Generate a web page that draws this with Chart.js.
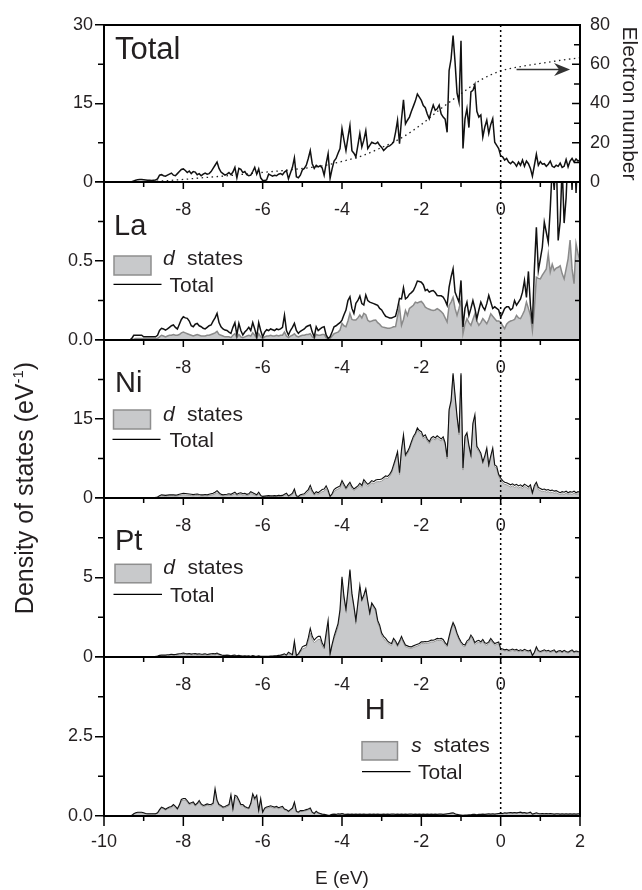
<!DOCTYPE html>
<html><head><meta charset="utf-8">
<script src="https://cdn.jsdelivr.net/npm/chart.js@4.4.1/dist/chart.umd.min.js"></script>
<style>
html,body{margin:0;padding:0;background:#fff;}
#wrap{position:relative;width:642px;height:890px;overflow:hidden;background:#fff;}
#wrap canvas{position:absolute;left:0;top:0;}
</style></head><body>
<div id="wrap">
<canvas id="c0" width="642" height="890"></canvas>
<canvas id="c1" width="642" height="890"></canvas>
<canvas id="c2" width="642" height="890"></canvas>
<canvas id="c3" width="642" height="890"></canvas>
<canvas id="c4" width="642" height="890"></canvas>
</div>
<script>
// ---------- DATA ----------
// energy grid (eV): -9.5 ... 2.0 in 0.05 eV steps (231 points)
const N = 231;
const energy = Array.from({length: N}, (_, i) => Math.round((-9.5 + i * 0.05) * 100) / 100);

// Total DOS (states/eV)
const totalDOS = [
0,0,0,0,0.05,0.2,0.35,0.45,0.5,0.5,
0.45,0.4,0.35,0.35,0.3,0.35,0.4,0.6,1.3,1.4,
1.2,1.1,1.3,1.5,1.7,1.3,1.2,1.6,2.0,2.4,
2.5,2.2,1.8,2.1,1.6,2.0,1.9,1.4,1.6,1.2,
1.5,1.7,1.5,1.6,2.0,2.6,3.2,3.8,2.6,1.9,
1.6,1.3,1.5,1.8,1.4,1.9,2.8,0.8,2.6,2.4,
1.8,2.0,1.4,1.2,1.3,2.0,2.8,1.5,2.5,0.8,
0.3,0.3,0.4,1.5,1.3,1.1,1.3,1.2,1.5,1.6,
1.4,1.9,2.2,0.6,1.7,2.8,4.6,1.0,0.8,1.3,
2.3,2.6,3.2,4.5,6.0,3.5,2.6,3.2,2.9,3.1,
2.7,1.3,3.5,5.4,0.7,2.5,4.0,4.5,5.5,6.4,
10.2,8.0,6.0,8.5,10.8,6.0,5.5,4.8,7.0,9.3,
6.7,8.0,9.8,6.4,7.0,7.6,7.4,7.3,7.6,7.0,
6.6,6.0,6.4,6.8,6.9,7.2,7.6,9.5,11.8,7.3,
12.0,15.7,11.1,11.8,12.4,13.5,14.5,15.5,16.8,16.2,
15.6,14.6,14.2,13.0,12.1,13.5,14.7,13.7,14.0,14.7,
13.0,12.4,12.0,9.5,21.3,23.5,28.0,22.9,17.0,15.3,
27.0,6.4,12.0,14.0,10.4,17.2,17.5,18.6,13.5,12.4,
12.8,8.6,10.5,11.8,9.3,11.0,12.1,7.6,7.0,6.4,
5.0,4.8,4.2,4.5,3.8,3.5,3.9,3.6,3.0,3.8,
3.2,4.2,3.0,4.0,3.5,2.6,1.1,3.2,5.3,3.2,
3.9,3.4,3.5,3.0,3.4,4.0,3.0,2.8,3.2,3.0,
3.6,2.8,3.0,4.3,2.9,4.0,4.5,3.8,4.4,4.0,
4.2];

// Integrated electron number (right axis)
const enEnergy = [-9.3,-9,-8.5,-8,-7.5,-7,-6.5,-6,-5.5,-5,-4.5,-4,-3.5,-3,-2.5,-2,-1.5,-1,-0.5,0,0.5,1,1.5,2];
const enCount  = [0,0.2,0.6,1.3,2.2,3.0,3.9,4.9,5.8,6.9,8.2,10.5,13.3,17.6,22.5,29.3,37.5,45.0,52.0,56.6,58.8,60.4,62.0,63.3];

// La
const laTotal = [
0,0,0,0,0.01,0.03,0.03,0.03,0.03,0.03,
0.02,0.02,0.02,0.02,0.02,0.02,0.02,0.03,0.06,0.074,
0.07,0.063,0.07,0.08,0.09,0.095,0.08,0.07,0.1,0.13,
0.147,0.14,0.137,0.12,0.09,0.084,0.1,0.105,0.09,0.084,
0.074,0.07,0.08,0.09,0.095,0.12,0.14,0.168,0.11,0.084,
0.07,0.063,0.06,0.05,0.042,0.08,0.11,0.032,0.105,0.06,
0.032,0.05,0.063,0.08,0.06,0.11,0.07,0.02,0.11,0.06,
0.02,0.05,0.065,0.06,0.07,0.065,0.06,0.07,0.065,0.07,
0.08,0.157,0.06,0.032,0.06,0.08,0.105,0.06,0.042,0.055,
0.063,0.07,0.084,0.09,0.095,0.05,0.02,0.084,0.06,0.07,
0.08,0.084,0.032,0.01,0.02,0.05,0.084,0.09,0.1,0.11,
0.126,0.16,0.189,0.25,0.274,0.2,0.168,0.232,0.25,0.278,
0.23,0.221,0.285,0.25,0.24,0.235,0.23,0.225,0.22,0.2,
0.19,0.168,0.15,0.145,0.14,0.14,0.145,0.15,0.2,0.263,
0.26,0.33,0.26,0.27,0.29,0.3,0.313,0.34,0.373,0.37,
0.366,0.35,0.313,0.32,0.303,0.31,0.313,0.3,0.282,0.28,
0.28,0.272,0.25,0.22,0.335,0.4,0.45,0.303,0.27,0.24,
0.377,0.082,0.2,0.24,0.156,0.2,0.25,0.2,0.135,0.19,
0.24,0.21,0.19,0.23,0.282,0.24,0.2,0.21,0.2,0.19,
0.145,0.17,0.2,0.21,0.21,0.19,0.2,0.25,0.22,0.24,
0.26,0.303,0.377,0.27,0.434,0.22,0.103,0.45,0.713,0.44,
0.514,0.587,0.745,0.682,0.619,0.83,1.1,0.95,1.2,0.63,
0.75,1.1,0.74,0.9,1.2,1.2,0.95,1.3,0.93,1.2,
1.2];
const laD = [
0,0,0,0,0,0.005,0.01,0.01,0.01,0.01,
0.01,0.01,0.01,0.01,0.01,0.01,0.01,0.01,0.02,0.03,
0.025,0.02,0.025,0.03,0.03,0.035,0.03,0.03,0.035,0.045,
0.05,0.045,0.04,0.035,0.03,0.025,0.03,0.035,0.03,0.025,
0.025,0.025,0.03,0.03,0.035,0.04,0.045,0.055,0.035,0.03,
0.025,0.02,0.02,0.02,0.015,0.03,0.04,0.015,0.035,0.02,
0.015,0.02,0.025,0.03,0.025,0.045,0.03,0.01,0.04,0.02,
0.01,0.02,0.025,0.025,0.03,0.025,0.025,0.03,0.025,0.03,
0.03,0.05,0.025,0.015,0.025,0.03,0.04,0.025,0.02,0.025,
0.03,0.03,0.035,0.035,0.04,0.02,0.01,0.035,0.03,0.03,
0.035,0.035,0.015,0.005,0.01,0.025,0.04,0.045,0.05,0.063,
0.105,0.09,0.084,0.12,0.168,0.13,0.126,0.126,0.14,0.158,
0.14,0.168,0.16,0.125,0.116,0.12,0.125,0.126,0.11,0.1,
0.084,0.08,0.078,0.075,0.074,0.078,0.084,0.085,0.15,0.21,
0.093,0.13,0.187,0.156,0.2,0.21,0.22,0.24,0.235,0.24,
0.244,0.23,0.208,0.2,0.195,0.19,0.187,0.19,0.198,0.19,
0.18,0.166,0.14,0.114,0.219,0.24,0.27,0.2,0.156,0.2,
0.25,0.04,0.1,0.135,0.11,0.093,0.13,0.166,0.12,0.093,
0.11,0.135,0.12,0.103,0.13,0.166,0.15,0.135,0.12,0.12,
0.114,0.09,0.072,0.1,0.114,0.12,0.124,0.13,0.156,0.14,
0.135,0.16,0.187,0.24,0.2,0.156,0.061,0.2,0.397,0.39,
0.387,0.41,0.43,0.45,0.545,0.43,0.48,0.44,0.455,0.46,
0.47,0.42,0.387,0.45,0.514,0.632,0.45,0.357,0.61,0.547,
0.5];

// Ni
const niTotal = [
0,0,0,0,0.02,0.05,0.08,0.1,0.1,0.1,
0.1,0.1,0.1,0.1,0.1,0.1,0.12,0.2,0.45,0.6,
0.55,0.5,0.55,0.6,0.62,0.6,0.55,0.6,0.7,0.8,
0.9,0.85,0.8,0.75,0.7,0.65,0.7,0.75,0.65,0.6,
0.6,0.65,0.6,0.7,0.8,0.9,1.1,1.4,1.0,0.7,
0.6,0.65,0.7,0.8,0.7,0.9,1.1,0.7,0.9,1.0,
0.8,0.9,0.7,0.8,1.2,1.0,0.8,0.6,1.1,0.5,
0.3,0.35,0.4,0.45,0.4,0.4,0.45,0.4,0.5,0.45,
0.5,0.7,0.9,0.4,0.6,0.9,1.7,0.4,0.3,0.6,
0.7,0.8,1.2,1.6,2.4,1.4,0.8,1.2,1.0,1.3,
1.6,1.7,2.3,1.5,0.3,0.8,1.6,1.9,2.1,2.3,
3.3,2.6,1.9,2.5,3.0,2.2,1.7,2.0,2.3,2.8,
2.4,3.5,3.0,2.6,2.9,3.3,3.1,3.4,3.5,3.5,
3.6,3.9,4.2,4.1,4.5,5.1,6.3,7.5,8.8,4.8,
9.2,12.0,8.2,8.8,9.6,10.7,11.7,12.3,13.3,12.8,
12.6,11.7,12.0,11.2,10.7,11.4,11.7,11.4,11.8,11.5,
11.2,11.6,10.5,7.8,16.8,18.5,23.7,19.5,15.5,12.4,
23.7,5.7,11.7,12.4,10.0,8.2,14.2,15.8,9.8,9.2,
8.5,6.9,8.0,9.5,6.3,8.0,9.5,6.3,6.0,4.5,
3.8,3.3,3.0,2.9,2.7,2.5,2.7,2.4,2.6,2.3,
2.5,2.2,2.6,2.4,2.1,2.5,1.0,2.4,3.0,2.0,
1.8,1.6,1.7,1.5,1.6,1.4,1.5,1.3,1.4,1.2,
1.0,1.2,1.1,1.3,1.0,1.2,1.1,1.3,1.0,1.2,
1.1];
const niD = [
0,0,0,0,0.01,0.03,0.05,0.06,0.06,0.06,
0.06,0.06,0.06,0.06,0.06,0.06,0.07,0.12,0.3,0.4,
0.35,0.32,0.35,0.4,0.42,0.4,0.36,0.4,0.48,0.55,
0.62,0.58,0.55,0.5,0.46,0.43,0.47,0.5,0.43,0.4,
0.4,0.43,0.4,0.47,0.55,0.62,0.78,1.0,0.7,0.48,
0.4,0.43,0.47,0.55,0.47,0.62,0.78,0.47,0.62,0.7,
0.55,0.62,0.47,0.55,0.85,0.7,0.55,0.4,0.78,0.33,
0.2,0.23,0.27,0.3,0.27,0.27,0.3,0.27,0.33,0.3,
0.33,0.48,0.62,0.27,0.4,0.62,1.3,0.27,0.2,0.4,
0.48,0.55,0.85,1.2,1.9,1.0,0.55,0.85,0.7,0.95,
1.2,1.3,1.8,1.1,0.2,0.55,1.2,1.5,1.7,1.9,
2.9,2.2,1.6,2.1,2.6,1.8,1.4,1.7,1.9,2.4,
2.0,3.1,2.6,2.2,2.5,2.9,2.7,3.0,3.1,3.1,
3.2,3.5,3.8,3.7,4.1,4.7,5.9,7.1,8.4,4.4,
8.8,11.6,7.8,8.4,9.2,10.3,11.3,11.9,12.9,12.4,
12.2,11.3,11.6,10.8,10.3,11.0,11.3,11.0,11.4,11.1,
10.8,11.2,10.1,7.4,16.4,18.1,23.3,19.1,15.1,12.0,
23.3,5.3,11.3,12.0,9.6,7.8,13.8,15.4,9.4,8.8,
8.1,6.5,7.6,9.1,5.9,7.6,9.1,5.9,5.6,4.1,
3.4,2.9,2.6,2.5,2.3,2.1,2.3,2.0,2.2,1.9,
2.1,1.8,2.2,2.0,1.7,2.1,0.7,2.0,2.6,1.6,
1.4,1.2,1.3,1.1,1.2,1.0,1.1,0.9,1.0,0.8,
0.7,0.8,0.7,0.9,0.7,0.8,0.7,0.9,0.7,0.8,
0.7];

// Pt
const ptTotal = [
0,0,0,0,0.01,0.02,0.03,0.03,0.03,0.03,
0.03,0.03,0.03,0.03,0.03,0.03,0.04,0.06,0.1,0.12,
0.13,0.12,0.14,0.15,0.17,0.15,0.16,0.18,0.2,0.22,
0.25,0.22,0.2,0.22,0.18,0.2,0.22,0.18,0.2,0.17,
0.18,0.2,0.16,0.18,0.2,0.22,0.2,0.25,0.18,0.14,
0.1,0.1,0.12,0.1,0.08,0.1,0.12,0.07,0.1,0.08,
0.06,0.08,0.06,0.07,0.05,0.09,0.06,0.04,0.07,0.05,
0.04,0.04,0.05,0.05,0.06,0.06,0.07,0.08,0.1,0.12,
0.15,0.2,0.12,0.3,0.22,0.15,1.0,0.1,0.2,0.4,
0.64,0.7,0.75,1.2,1.8,1.3,1.06,1.2,1.3,1.3,
0.9,0.64,1.5,2.3,0.2,0.8,1.3,1.7,2.1,2.98,
5.05,3.8,3.0,4.2,5.5,4.0,3.2,2.3,3.4,4.5,
3.6,3.9,4.3,3.5,2.77,3.4,3.2,3.0,2.3,2.0,
1.5,1.3,1.17,1.0,0.9,0.85,1.17,1.0,0.75,1.0,
1.3,1.0,0.75,0.7,0.65,0.64,0.7,0.75,0.8,0.85,
0.96,0.95,0.97,0.96,1.0,1.06,1.05,1.1,1.17,1.15,
1.17,1.1,0.9,0.75,1.3,1.8,2.17,1.9,1.5,1.2,
0.96,0.8,0.75,1.0,1.1,1.38,1.2,0.9,1.0,1.05,
0.95,1.1,0.9,0.85,0.95,1.17,1.0,0.85,0.9,0.95,
0.53,0.5,0.45,0.48,0.42,0.45,0.5,0.44,0.48,0.4,
0.45,0.4,0.48,0.42,0.38,0.44,0.1,0.3,0.64,0.4,
0.35,0.4,0.45,0.38,0.42,0.35,0.4,0.45,0.3,0.38,
0.4,0.33,0.42,0.35,0.3,0.38,0.45,0.32,0.38,0.35,
0.33];
const ptD = [
0,0,0,0,0.005,0.01,0.015,0.015,0.015,0.015,
0.015,0.015,0.015,0.015,0.015,0.015,0.02,0.03,0.06,0.07,
0.08,0.07,0.09,0.1,0.11,0.1,0.1,0.12,0.13,0.15,
0.17,0.15,0.13,0.15,0.12,0.13,0.15,0.12,0.13,0.11,
0.12,0.13,0.1,0.12,0.13,0.15,0.13,0.17,0.12,0.09,
0.06,0.06,0.08,0.06,0.05,0.06,0.08,0.04,0.06,0.05,
0.04,0.05,0.04,0.04,0.03,0.06,0.04,0.02,0.04,0.03,
0.02,0.02,0.03,0.03,0.04,0.04,0.05,0.05,0.07,0.08,
0.1,0.13,0.08,0.2,0.15,0.1,0.7,0.06,0.12,0.3,
0.5,0.55,0.6,1.0,1.5,1.1,0.9,1.0,1.1,1.1,
0.7,0.5,1.25,2.0,0.15,0.7,1.15,1.5,1.9,2.8,
4.9,3.7,2.9,4.1,5.4,3.9,3.1,2.2,3.3,4.4,
3.5,3.8,4.2,3.4,2.65,3.3,3.1,2.85,2.15,1.85,
1.35,1.15,1.0,0.88,0.78,0.73,1.03,0.88,0.64,0.88,
1.17,0.88,0.64,0.6,0.55,0.54,0.6,0.64,0.69,0.74,
0.85,0.84,0.86,0.85,0.89,0.95,0.94,0.99,1.05,1.03,
1.05,0.98,0.79,0.64,1.18,1.68,2.05,1.78,1.38,1.08,
0.85,0.69,0.64,0.88,0.98,1.26,1.08,0.79,0.88,0.93,
0.84,0.98,0.79,0.74,0.84,1.05,0.88,0.74,0.79,0.84,
0.45,0.42,0.38,0.4,0.35,0.37,0.42,0.36,0.4,0.33,
0.37,0.33,0.4,0.35,0.31,0.36,0.07,0.24,0.55,0.33,
0.28,0.33,0.37,0.31,0.35,0.28,0.33,0.37,0.24,0.31,
0.33,0.27,0.35,0.28,0.24,0.31,0.37,0.26,0.31,0.28,
0.27];

// H
const hTotal = [
0,0,0,0,0.02,0.07,0.1,0.12,0.12,0.12,
0.1,0.08,0.07,0.07,0.07,0.07,0.07,0.1,0.2,0.28,
0.25,0.21,0.25,0.28,0.3,0.36,0.3,0.23,0.35,0.52,
0.55,0.55,0.48,0.39,0.42,0.44,0.35,0.4,0.49,0.38,
0.33,0.35,0.38,0.36,0.36,0.4,0.86,0.5,0.36,0.33,
0.28,0.3,0.33,0.36,0.67,0.23,0.65,0.62,0.5,0.36,
0.36,0.3,0.27,0.25,0.4,0.7,0.55,0.65,0.18,0.55,
0.12,0.25,0.28,0.3,0.32,0.3,0.28,0.3,0.26,0.28,
0.3,0.22,0.2,0.15,0.2,0.25,0.44,0.15,0.12,0.17,
0.17,0.18,0.2,0.22,0.25,0.12,0.08,0.15,0.1,0.08,
0.06,0.05,0.04,0.02,0.03,0.05,0.06,0.05,0.07,0.06,
0.08,0.06,0.05,0.06,0.05,0.06,0.05,0.06,0.05,0.06,
0.05,0.06,0.05,0.05,0.06,0.05,0.06,0.05,0.06,0.05,
0.05,0.06,0.05,0.06,0.05,0.06,0.06,0.05,0.06,0.05,
0.06,0.05,0.06,0.05,0.06,0.06,0.05,0.06,0.05,0.06,
0.05,0.06,0.05,0.06,0.05,0.06,0.05,0.06,0.05,0.06,
0.06,0.05,0.06,0.07,0.08,0.09,0.1,0.07,0.05,0.04,
0.03,0.02,0.03,0.03,0.04,0.04,0.05,0.05,0.04,0.05,
0.05,0.06,0.05,0.06,0.07,0.06,0.07,0.06,0.07,0.08,
0.09,0.08,0.1,0.09,0.1,0.11,0.1,0.11,0.1,0.11,
0.12,0.1,0.11,0.09,0.1,0.12,0.06,0.08,0.1,0.08,
0.07,0.08,0.07,0.08,0.07,0.08,0.07,0.06,0.07,0.07,
0.06,0.07,0.06,0.07,0.06,0.07,0.06,0.07,0.06,0.07,
0.07];
const hS = [
0,0,0,0,0.015,0.06,0.09,0.1,0.1,0.1,
0.085,0.07,0.06,0.06,0.06,0.06,0.06,0.085,0.17,0.25,
0.22,0.18,0.22,0.25,0.26,0.32,0.26,0.2,0.31,0.47,
0.5,0.5,0.43,0.35,0.38,0.4,0.31,0.36,0.44,0.34,
0.29,0.31,0.34,0.32,0.32,0.36,0.8,0.45,0.32,0.29,
0.25,0.26,0.29,0.32,0.6,0.2,0.59,0.56,0.45,0.32,
0.32,0.26,0.24,0.22,0.36,0.63,0.49,0.59,0.15,0.49,
0.1,0.22,0.25,0.26,0.28,0.26,0.25,0.26,0.23,0.25,
0.26,0.19,0.17,0.13,0.17,0.22,0.39,0.12,0.1,0.14,
0.14,0.15,0.17,0.19,0.21,0.1,0.06,0.12,0.08,0.06,
0.04,0.03,0.025,0.01,0.02,0.03,0.04,0.03,0.045,0.04,
0.05,0.04,0.03,0.04,0.03,0.04,0.03,0.04,0.03,0.04,
0.03,0.04,0.03,0.03,0.04,0.03,0.04,0.03,0.04,0.03,
0.03,0.04,0.03,0.04,0.03,0.04,0.04,0.03,0.04,0.03,
0.04,0.03,0.04,0.03,0.04,0.04,0.03,0.04,0.03,0.04,
0.03,0.04,0.03,0.04,0.03,0.04,0.03,0.04,0.03,0.04,
0.04,0.03,0.04,0.05,0.06,0.07,0.08,0.05,0.03,0.02,
0.015,0.01,0.015,0.015,0.02,0.02,0.03,0.03,0.02,0.03,
0.03,0.04,0.03,0.04,0.05,0.04,0.05,0.04,0.05,0.06,
0.07,0.06,0.08,0.07,0.08,0.09,0.08,0.09,0.08,0.09,
0.1,0.08,0.09,0.07,0.08,0.1,0.04,0.06,0.08,0.06,
0.05,0.06,0.05,0.06,0.05,0.06,0.05,0.04,0.05,0.05,
0.04,0.05,0.04,0.05,0.04,0.05,0.04,0.05,0.04,0.05,
0.05];

// axis tick values
const xMajorTicks = [-10,-8,-6,-4,-2,0,2];
const xMinorTicks = [-9,-7,-5,-3,-1,1];
const xInnerLabels = [-8,-6,-4,-2,0];
const arrowFrom = [0.40, 57.3];   // (E, electron number)
const arrowTo   = [1.75, 57.3];

[['totalDOS',totalDOS],['laTotal',laTotal],['laD',laD],['niTotal',niTotal],['niD',niD],
 ['ptTotal',ptTotal],['ptD',ptD],['hTotal',hTotal],['hS',hS]].forEach(([n,a]) => {
  if (a.length !== N) throw new Error(n + ' has ' + a.length + ' values');
});

// ---------- STYLE / LAYOUT ----------
const FONT = "'Liberation Sans', Arial, Helvetica, sans-serif";
const TXT = '#231f20';
const FILL = '#c8c9cb';

const panels = [
 {id:'c0', top:25, bottom:182, yMax:30, yStep:15, yMinor:[7.5,22.5], dec:0, showTop:true,
  line:totalDOS, lineWidth:1.5, part:null, name:'Total', nameSize:31, nameX:115, nameY:59, right:true},
 {id:'c1', top:182, bottom:340, yMax:1, yStep:0.5, yMinor:[0.25,0.75], dec:1,
  line:laTotal, lineWidth:1.5, part:laD, partColor:'#8a8a8a', partWidth:1.5,
  name:'La', nameX:114, nameY:234.5,
  leg:{box:[114,256,37,19], sym:'d', symX:163, statesX:187, textY:265, line:[113.5,161.5,284.3], totX:169.5, totY:291.7}},
 {id:'c2', top:340, bottom:498, yMax:30, yStep:15, yMinor:[7.5,22.5], dec:0,
  line:niTotal, lineWidth:1.1, part:niD, partColor:'#9a9a9a', partWidth:1,
  name:'Ni', nameX:115, nameY:392,
  leg:{box:[113.5,410,37,19], sym:'d', symX:163, statesX:187, textY:420.5, line:[112.5,160.5,439.3], totX:169.5, totY:447.3}},
 {id:'c3', top:498, bottom:657, yMax:10, yStep:5, yMinor:[2.5,7.5], dec:0,
  line:ptTotal, lineWidth:1.1, part:ptD, partColor:'#9a9a9a', partWidth:1,
  name:'Pt', nameX:115, nameY:550,
  leg:{box:[115,564.3,36,18.5], sym:'d', symX:163.3, statesX:187.4, textY:574, line:[113.5,162,594.3], totX:170, totY:601.7}},
 {id:'c4', top:657, bottom:816, yMax:5, yStep:2.5, yMinor:[1.25,3.75], dec:1,
  line:hTotal, lineWidth:1.1, part:hS, partColor:'#9a9a9a', partWidth:1,
  name:'H', nameX:364.8, nameY:719.3, bottomAxis:true, yTitle:true,
  leg:{box:[362,741.7,35.5,18.3], sym:'s', symX:411.2, statesX:433.6, textY:751.7, line:[362,410.5,771.7], totX:418, totY:779}}
];

const decor = {
  id: 'decor',
  afterDatasetsDraw(chart) {
    const {ctx, chartArea: a, scales} = chart;
    const x0 = scales.x.getPixelForValue(0);
    ctx.save();
    ctx.strokeStyle = '#000'; ctx.lineWidth = 1.5; ctx.setLineDash([2, 3]);
    ctx.beginPath(); ctx.moveTo(x0, a.top); ctx.lineTo(x0, a.bottom); ctx.stroke();
    ctx.restore();
  },
  afterDraw(chart) {
    const p = chart.options.plugins.decor.p;
    const {ctx, chartArea: a, scales} = chart;
    const xs = scales.x, ys = scales.y;
    ctx.save();
    ctx.strokeStyle = '#000'; ctx.setLineDash([]);
    // frame
    ctx.lineWidth = 2;
    ctx.strokeRect(a.left, a.top, a.right - a.left, a.bottom - a.top);
    // x ticks (outward, bottom edge)
    ctx.lineWidth = 1.5;
    const maj = p.bottomAxis ? 10 : 7;
    ctx.beginPath();
    xMajorTicks.forEach(v => { const x = xs.getPixelForValue(v); ctx.moveTo(x, a.bottom); ctx.lineTo(x, a.bottom + maj); });
    xMinorTicks.forEach(v => { const x = xs.getPixelForValue(v); ctx.moveTo(x, a.bottom); ctx.lineTo(x, a.bottom + 5); });
    // left minor ticks (outward)
    p.yMinor.forEach(v => { const y = ys.getPixelForValue(v); ctx.moveTo(a.left, y); ctx.lineTo(a.left - 6, y); });
    // right inward ticks
    if (p.right) {
      const y2 = scales.y2;
      for (let v = 10; v < 80; v += 10) { const y = y2.getPixelForValue(v); ctx.moveTo(a.right, y); ctx.lineTo(a.right - (v % 20 === 0 ? 8 : 6), y); }
    } else {
      for (let v = p.yStep / 2; v < p.yMax - 1e-9; v += p.yStep / 2) { const y = ys.getPixelForValue(v); ctx.moveTo(a.right, y); ctx.lineTo(a.right - 5, y); }
    }
    ctx.stroke();

    ctx.fillStyle = TXT;
    // inner x labels
    if (p.id !== 'c0') {
      ctx.font = '18px ' + FONT; ctx.textAlign = 'center'; ctx.textBaseline = 'middle';
      xInnerLabels.forEach(v => ctx.fillText(String(v), xs.getPixelForValue(v), a.top + 28));
    }
    // panel name
    ctx.textAlign = 'left'; ctx.textBaseline = 'alphabetic';
    ctx.font = (p.nameSize || 29) + 'px ' + FONT;
    ctx.fillText(p.name, p.nameX, p.nameY);
    // legend
    if (p.leg) {
      const L = p.leg;
      ctx.fillStyle = FILL; ctx.fillRect(L.box[0], L.box[1], L.box[2], L.box[3]);
      ctx.strokeStyle = '#8e8e8e'; ctx.lineWidth = 1.5; ctx.strokeRect(L.box[0], L.box[1], L.box[2], L.box[3]);
      ctx.fillStyle = TXT;
      ctx.font = 'italic 21px ' + FONT; ctx.fillText(L.sym, L.symX, L.textY);
      ctx.font = '21px ' + FONT; ctx.fillText('states', L.statesX, L.textY);
      ctx.strokeStyle = '#000'; ctx.lineWidth = 1.3;
      ctx.beginPath(); ctx.moveTo(L.line[0], L.line[2]); ctx.lineTo(L.line[1], L.line[2]); ctx.stroke();
      ctx.fillText('Total', L.totX, L.totY);
    }
    // arrow toward right axis
    if (p.right) {
      const y2 = scales.y2;
      const xa = xs.getPixelForValue(arrowFrom[0]), xb = xs.getPixelForValue(arrowTo[0]);
      const ya = y2.getPixelForValue(arrowFrom[1]);
      ctx.strokeStyle = '#333'; ctx.fillStyle = '#333'; ctx.lineWidth = 1.6;
      ctx.beginPath(); ctx.moveTo(xa, ya); ctx.lineTo(xb - 8, ya); ctx.stroke();
      ctx.beginPath(); ctx.moveTo(xb, ya); ctx.lineTo(xb - 16, ya - 6.5); ctx.lineTo(xb - 11, ya); ctx.lineTo(xb - 16, ya + 6.5); ctx.closePath(); ctx.fill();
    }
    // global y title
    if (p.yTitle) {
      ctx.save();
      ctx.translate(33, 488); ctx.rotate(-Math.PI / 2);
      ctx.fillStyle = TXT; ctx.textBaseline = 'alphabetic'; ctx.textAlign = 'left';
      const main = 'Density of states (eV';
      ctx.font = '25px ' + FONT; const w1 = ctx.measureText(main).width; const w3 = ctx.measureText(')').width;
      ctx.font = '15px ' + FONT; const w2 = ctx.measureText('-1').width;
      let x = -(w1 + w2 + w3) / 2;
      ctx.font = '25px ' + FONT; ctx.fillText(main, x, 0); x += w1;
      ctx.font = '15px ' + FONT; ctx.fillText('-1', x, -10); x += w2;
      ctx.font = '25px ' + FONT; ctx.fillText(')', x, 0);
      ctx.restore();
    }
    ctx.restore();
  }
};

function pts(vals) { return energy.map((e, i) => ({x: e, y: vals[i]})); }

panels.forEach(p => {
  const datasets = [{
    data: pts(p.line), borderColor: '#111', borderWidth: p.lineWidth, pointRadius: 0,
    fill: false, tension: 0, order: 0, yAxisID: 'y', clip: 0
  }];
  if (p.part) datasets.push({
    data: pts(p.part), borderColor: p.partColor, borderWidth: p.partWidth, backgroundColor: FILL,
    fill: 'origin', pointRadius: 0, tension: 0, order: 1, yAxisID: 'y', clip: 0
  });
  if (p.right) datasets.push({
    data: enEnergy.map((e, i) => ({x: e, y: enCount[i]})), borderColor: '#222', borderWidth: 1.3,
    borderDash: [1.5, 3.5], pointRadius: 0, fill: false, cubicInterpolationMode: 'monotone',
    order: 2, yAxisID: 'y2', clip: 0
  });
  const scales = {
    x: {
      type: 'linear', min: -10, max: 2, display: !!p.bottomAxis,
      afterFit: s => { if (p.bottomAxis) s.height = 74; },
      ticks: { stepSize: 2, autoSkip: false, maxRotation: 0, padding: 15, color: TXT, font: {family: FONT, size: 18} },
      grid: { drawOnChartArea: false, drawTicks: false },
      border: { display: false },
      title: { display: true, text: 'E (eV)', color: TXT, font: {family: FONT, size: 19}, padding: {top: 0, bottom: 0} }
    },
    y: {
      type: 'linear', position: 'left', min: 0, max: p.yMax,
      afterFit: s => { s.width = 104; },
      ticks: { stepSize: p.yStep, autoSkip: false, padding: 2, color: TXT, font: {family: FONT, size: 18},
        callback: v => (!p.showTop && Math.abs(v - p.yMax) < 1e-9) ? '' : Number(v).toFixed(p.dec) },
      grid: { drawOnChartArea: false, drawTicks: true, tickLength: 9, color: '#000', lineWidth: 1.5 },
      border: { display: false }
    }
  };
  if (p.right) scales.y2 = {
    type: 'linear', position: 'right', min: 0, max: 80,
    afterFit: s => { s.width = 62; },
    ticks: { stepSize: 20, autoSkip: false, padding: 10, color: TXT, font: {family: FONT, size: 18} },
    grid: { drawOnChartArea: false, drawTicks: false },
    border: { display: false },
    title: { display: true, text: 'Electron number', color: TXT, font: {family: FONT, size: 21}, padding: {top: 1, bottom: 0} }
  };
  new Chart(document.getElementById(p.id), {
    type: 'line',
    data: { datasets },
    options: {
      responsive: false, animation: false, devicePixelRatio: 1, events: [],
      layout: { padding: { top: p.top, bottom: p.bottomAxis ? 0 : 890 - p.bottom, left: 0, right: p.right ? 0 : 62 } },
      plugins: { legend: {display: false}, tooltip: {enabled: false}, decor: { p } },
      scales
    },
    plugins: [decor]
  });
});
</script>
</body></html>
